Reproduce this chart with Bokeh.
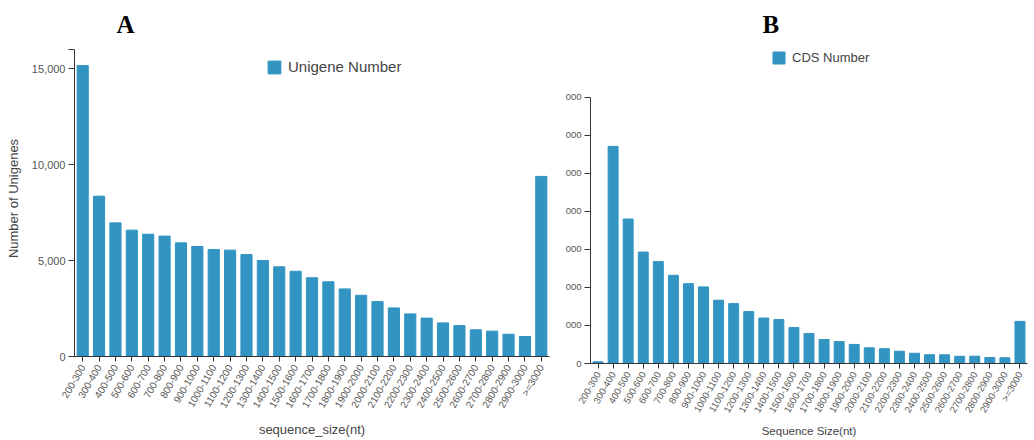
import math

from bokeh.plotting import figure
from bokeh.layouts import row, column
from bokeh.models import (ColumnDataSource, FactorRange, Range1d, FixedTicker,
                          CustomJSTickFormatter, Title)
from bokeh.embed import file_html
from bokeh.resources import INLINE

# Length bins shared by both histograms
size_bins = [
    "200-300", "300-400", "400-500", "500-600", "600-700", "700-800",
    "800-900", "900-1000", "1000-1100", "1100-1200", "1200-1300",
    "1300-1400", "1400-1500", "1500-1600", "1600-1700", "1700-1800",
    "1800-1900", "1900-2000", "2000-2100", "2100-2200", "2200-2300",
    "2300-2400", "2400-2500", "2500-2600", "2600-2700", "2700-2800",
    "2800-2900", "2900-3000", ">=3000",
]

# Panel A: assembled unigenes per length bin
unigene_counts = [
    15150, 8350, 6960, 6580, 6370, 6270, 5920, 5730, 5570, 5540,
    5310, 5000, 4670, 4440, 4100, 3890, 3520, 3190, 2860, 2530,
    2220, 2000, 1750, 1610, 1390, 1320, 1160, 1040, 9380,
]

# Panel B: predicted coding sequences per length bin
cds_counts = [
    45, 5710, 3800, 2930, 2680, 2320, 2100, 2015, 1665, 1575,
    1365, 1195, 1155, 945, 790, 630, 577, 502, 412, 390,
    322, 270, 232, 228, 190, 192, 157, 150, 1108,
]

unigene_ticks = [0, 5000, 10000, 15000, 16000]
cds_ticks = [0, 1000, 2000, 3000, 4000, 5000, 6000, 7000]

BAR = "#3194c2"
FONT = "Liberation Sans"
TICK_COLOR = "#555555"
TITLE_COLOR = "#444444"
AXIS_COLOR = "#333333"

HEIGHT = 440
# The frames reach up to y = 40 so the legends sit inside them; the y axis
# lines are cut back to the last tick with `bounds`.
FRAME_TOP = 40
A_BOTTOM, B_BOTTOM = 356, 364


def style_axes(p, tick_size, title_size, x_standoff, y_standoff):
    for ax in (p.xaxis[0], p.yaxis[0]):
        ax.axis_line_color = AXIS_COLOR
        ax.major_tick_line_color = AXIS_COLOR
        ax.minor_tick_line_color = None
        ax.major_tick_in = 0
        ax.major_label_text_font = FONT
        ax.major_label_text_font_size = tick_size
        ax.major_label_text_color = TICK_COLOR
        ax.axis_label_text_font = FONT
        ax.axis_label_text_font_style = "normal"
        ax.axis_label_text_font_size = title_size
        ax.axis_label_text_color = TITLE_COLOR
    p.xaxis.major_tick_out = 5
    p.yaxis.major_tick_out = 6
    p.xaxis.major_label_orientation = math.radians(60)
    p.xaxis.major_label_standoff = 4
    p.yaxis.major_label_standoff = 3
    p.xaxis.axis_label_standoff = x_standoff
    p.yaxis.axis_label_standoff = y_standoff
    p.xgrid.grid_line_color = None
    p.ygrid.grid_line_color = None
    p.outline_line_color = None


def style_legend(p, loc, glyph, font_size):
    lg = p.legend[0]
    lg.location = loc
    lg.glyph_width = glyph
    lg.glyph_height = glyph
    lg.label_height = glyph
    lg.label_standoff = 6
    lg.padding = 0
    lg.margin = 0
    lg.border_line_alpha = 0
    lg.background_fill_alpha = 0
    lg.label_text_font = FONT
    lg.label_text_font_size = font_size
    lg.label_text_color = TITLE_COLOR


def panel_title(p, text, offset):
    p.add_layout(Title(text=text, align="left", offset=offset,
                       text_font="Liberation Serif", text_font_style="bold",
                       text_font_size="25px", text_color="#000000",
                       standoff=5), "above")


# ---------------- Panel A ----------------
# 15,000 spans 288 px above the zero line
a_px = 288 / 15000
src_a = ColumnDataSource(data=dict(bin=size_bins, count=unigene_counts))
pa = figure(
    width=562, height=HEIGHT,
    x_range=FactorRange(*size_bins, range_padding=0),
    y_range=Range1d(0, (A_BOTTOM - FRAME_TOP) / a_px),
    output_backend="svg", toolbar_location=None,
    min_border_left=74, min_border_right=13,
    min_border_top=FRAME_TOP, min_border_bottom=HEIGHT - A_BOTTOM,
    x_axis_label="sequence_size(nt)", y_axis_label="Number of Unigenes",
)
pa.vbar(x="bin", top="count", width=0.68, source=src_a,
        color=BAR, legend_label="Unigene Number")
style_axes(pa, "10px", "13px", 7, 8)
pa.yaxis.bounds = (0, unigene_ticks[-1])
pa.yaxis.ticker = FixedTicker(ticks=unigene_ticks)
pa.yaxis.formatter = CustomJSTickFormatter(
    code="return tick >= 16000 ? '' : tick.toLocaleString('en-US');")
pa.yaxis.major_label_text_font_size = "11px"
style_legend(pa, (192, A_BOTTOM - 75), 16, "15px")
panel_title(pa, "A", 42)

# ---------------- Panel B ----------------
# 7,000 spans 267 px above the zero line
b_px = 267 / 7000
src_b = ColumnDataSource(data=dict(bin=size_bins, count=cds_counts))
pb = figure(
    width=472, height=HEIGHT,
    x_range=FactorRange(*size_bins, range_padding=0),
    y_range=Range1d(0, (B_BOTTOM - FRAME_TOP) / b_px),
    output_backend="svg", toolbar_location=None,
    min_border_left=24, min_border_right=7,
    min_border_top=FRAME_TOP, min_border_bottom=HEIGHT - B_BOTTOM,
    x_axis_label="Sequence Size(nt)",
)
pb.vbar(x="bin", top="count", width=0.66, source=src_b,
        color=BAR, legend_label="CDS Number")
style_axes(pb, "9.5px", "11.5px", 5, 0)
pb.yaxis.bounds = (0, cds_ticks[-1])
pb.yaxis.ticker = FixedTicker(ticks=cds_ticks)
# only the trailing thousands digits of the tick values stay on the page
pb.yaxis.formatter = CustomJSTickFormatter(
    code="return tick == 0 ? '0' : '000';")
style_legend(pb, (181, B_BOTTOM - 66), 15, "13px")
panel_title(pb, "B", 172)

layout = row(column(pa), column(pb))
open("out.html", "w").write(file_html(layout, INLINE))
